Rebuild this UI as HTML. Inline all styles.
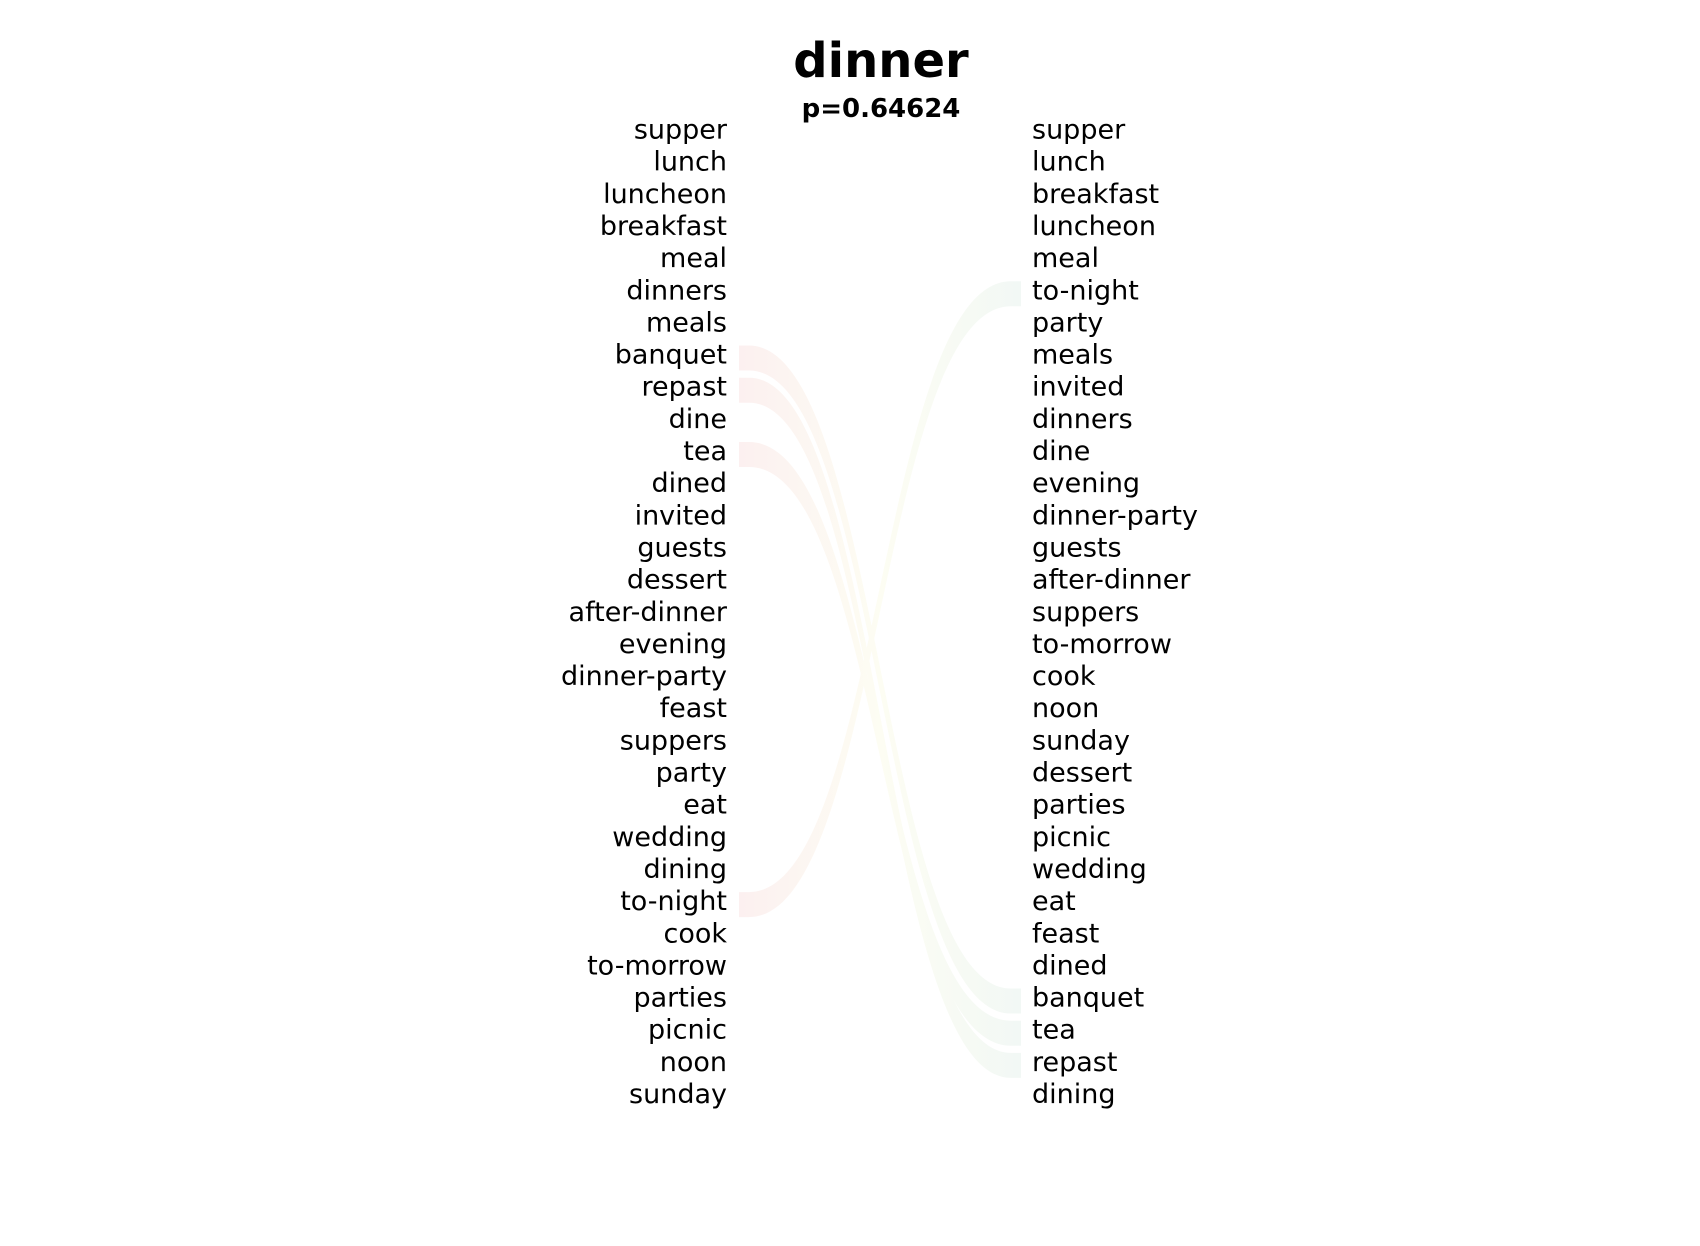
<!DOCTYPE html>
<html><head><meta charset="utf-8"><style>
html,body{margin:0;padding:0;background:#fff;}
svg{display:block;font-family:"DejaVu Sans","Liberation Sans",sans-serif;}
</style></head><body>
<svg id="chart" width="1700" height="1246" viewBox="0 0 1700 1246" xmlns="http://www.w3.org/2000/svg">
<defs>
<linearGradient id="bandGrad" x1="0" y1="0" x2="1" y2="0">
<stop offset="0" stop-color="#fcf0f0"/>
<stop offset="0.5" stop-color="#fdfdf3"/>
<stop offset="1" stop-color="#f2f8f5"/>
</linearGradient>
</defs>
<text x="881" y="77" text-anchor="middle" font-size="48" font-weight="bold">dinner</text>
<text x="881" y="117" text-anchor="middle" font-size="26" font-weight="bold">p=0.64624</text>
<g id="bands"></g>
<g id="left"></g>
<g id="right"></g>
</svg>
<script>
const leftWords = ["supper","lunch","luncheon","breakfast","meal","dinners","meals","banquet","repast","dine","tea","dined","invited","guests","dessert","after-dinner","evening","dinner-party","feast","suppers","party","eat","wedding","dining","to-night","cook","to-morrow","parties","picnic","noon","sunday"];
const rightWords = ["supper","lunch","breakfast","luncheon","meal","to-night","party","meals","invited","dinners","dine","evening","dinner-party","guests","after-dinner","suppers","to-morrow","cook","noon","sunday","dessert","parties","picnic","wedding","eat","feast","dined","banquet","tea","repast","dining"];
const highlighted = ["banquet","repast","tea","to-night"];

const NS = "http://www.w3.org/2000/svg";
const y0 = 138.5, dy = 32.15;
function rowY(i){ return y0 + i*dy; }
const xL = 727, xR = 1032, bL = 739, bR = 1021;

const gL = document.getElementById('left');
leftWords.forEach((w,i)=>{
  const t = document.createElementNS(NS,'text');
  t.setAttribute('x', xL); t.setAttribute('y', rowY(i));
  t.setAttribute('text-anchor','end'); t.setAttribute('font-size','27');
  
  
  t.textContent = w; gL.appendChild(t);
});
const gR = document.getElementById('right');
rightWords.forEach((w,i)=>{
  const t = document.createElementNS(NS,'text');
  t.setAttribute('x', xR); t.setAttribute('y', rowY(i));
  t.setAttribute('font-size','27');
  
  
  t.textContent = w; gR.appendChild(t);
});
const gB = document.getElementById('bands');
highlighted.forEach(w=>{
  const li = leftWords.indexOf(w), ri = rightWords.indexOf(w);
  const lt = rowY(li)-18, lb = rowY(li)+7, rt = rowY(ri)-18, rb = rowY(ri)+7;
  const f = 10, m = (bL+f + bR-f)/2;
  const d = `M${bL},${lt} L${bL+f},${lt} C${m},${lt} ${m},${rt} ${bR-f},${rt} L${bR},${rt} L${bR},${rb} L${bR-f},${rb} C${m},${rb} ${m},${lb} ${bL+f},${lb} L${bL},${lb} Z`;
  const p = document.createElementNS(NS,'path');
  p.setAttribute('d', d); p.setAttribute('fill','url(#bandGrad)');
  
  
  gB.appendChild(p);
});
</script>
</body></html>
